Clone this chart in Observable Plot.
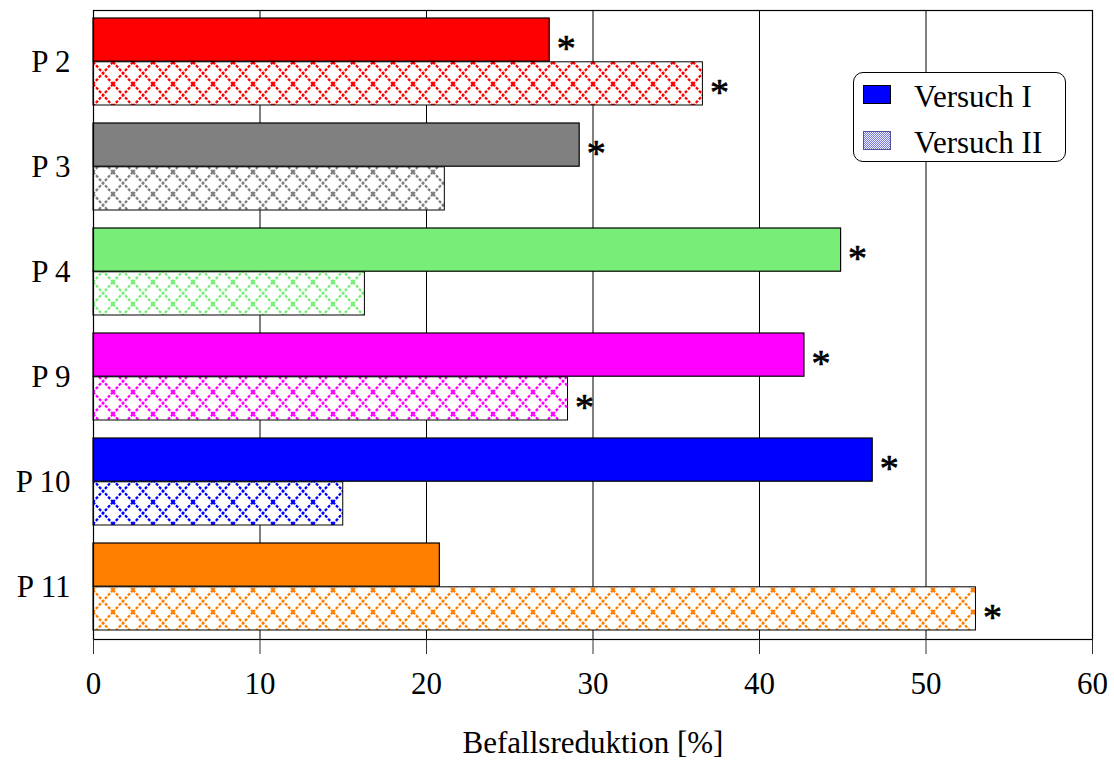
<!DOCTYPE html>
<html>
<head>
<meta charset="utf-8">
<script src="https://cdn.jsdelivr.net/npm/d3@7"></script>
<script src="https://cdn.jsdelivr.net/npm/@observablehq/plot@0.6"></script>
<style>
  body { margin: 0; background: #fff; }
  #wrap { position: relative; width: 1114px; height: 760px; font-family: "Liberation Serif", "Times New Roman", serif; }
  #legend { position: absolute; left: 853px; top: 72px; width: 211px; height: 88px; border: 1.5px solid #000; border-radius: 10px; background: #fff; }
  .sw { position: absolute; left: 9px; width: 26px; height: 17px; border: 1px solid #000; }
  .lt { position: absolute; left: 60px; font-size: 31px; line-height: 31px; color: #000; }
</style>
</head>
<body>
<div id="wrap"></div>
<script>
const categories = ["P 2", "P 3", "P 4", "P 9", "P 10", "P 11"];
const versuch1 = [27.4, 29.2, 44.9, 42.7, 46.8, 20.8];
const versuch2 = [36.6, 21.1, 16.3, 28.5, 15.0, 53.0];
const sig1 = [true, true, true, true, true, false];
const sig2 = [true, false, false, true, false, true];
const colors = ["#ff0000", "#808080", "#78ee78", "#ff00ff", "#0000ff", "#ff8000"];
const xTicks = [0, 10, 20, 30, 40, 50, 60];
const seriesNames = ["Versuch I", "Versuch II"];
const axisTitle = "Befallsreduktion [%]";

const rows1 = categories.map((c, i) => ({cat: c, value: versuch1[i], fill: colors[i], sig: sig1[i]}));
const rows2 = categories.map((c, i) => ({cat: c, value: versuch2[i], fill: `url(#hatch${i})`, sig: sig2[i]}));

const half = 43.8;
const font = "Liberation Serif, Times New Roman, serif";
const starStyle = {text: () => "*", textAnchor: "start", dx: 7, fontSize: 38, fill: "#000", stroke: "#000", strokeWidth: 0.7};

const plot = Plot.plot({
  width: 1114,
  height: 760,
  marginLeft: 93,
  marginRight: 22,
  marginTop: 10,
  marginBottom: 121,
  style: {fontFamily: font, fontSize: "31px", color: "#000", background: "#fff"},
  x: {domain: [0, 60]},
  y: {domain: categories, paddingInner: 0.167, paddingOuter: 0.076},
  color: {type: "identity"},
  marks: [
    Plot.gridX(xTicks.slice(1), {stroke: "#000", strokeOpacity: 1, strokeWidth: 1}),
    Plot.barX(rows1, {x: "value", y: "cat", fill: "fill", stroke: "#000", strokeWidth: 1.2, insetBottom: half}),
    Plot.barX(rows2, {x: "value", y: "cat", fill: "fill", stroke: "#000", strokeWidth: 1, insetTop: half}),
    Plot.text(rows1.filter(d => d.sig), {x: "value", y: "cat", dy: -half / 2 + 9, ...starStyle}),
    Plot.text(rows2.filter(d => d.sig), {x: "value", y: "cat", dy: half / 2 + 9, ...starStyle}),
    Plot.frame({stroke: "#000", strokeWidth: 1.2}),
    Plot.axisX({ticks: xTicks, tickSize: 15, tickPadding: 17, fontSize: 31, label: null, stroke: "#333"}),
    Plot.axisY({tickSize: 0, tickPadding: 23, fontSize: 31, label: null}),
    Plot.text([axisTitle], {text: d => d, frameAnchor: "bottom", dy: 113, fontSize: 31, fill: "#000"})
  ]
});

// hatch patterns for Versuch II
const defs = d3.select(plot).insert("defs", ":first-child");
colors.forEach((c, i) => {
  const p = defs.append("pattern")
    .attr("id", `hatch${i}`)
    .attr("patternUnits", "userSpaceOnUse")
    .attr("x", 93).attr("y", 18)
    .attr("width", 20).attr("height", 22);
  p.append("rect").attr("width", 20).attr("height", 22).attr("fill", "#fff");
  p.append("path")
    .attr("d", "M0,0L20,22M20,0L0,22")
    .attr("stroke", c).attr("stroke-width", 2.3).attr("stroke-dasharray", "3 1.5").attr("fill", "none");
});

const wrap = document.getElementById("wrap");
wrap.appendChild(plot);

const legend = document.createElement("div");
legend.id = "legend";
legend.innerHTML = `
  <div class="sw" style="top:12px;background:#0000ff"></div>
  <div class="lt" style="top:8px">${seriesNames[0]}</div>
  <div class="sw" style="top:58px;background:repeating-conic-gradient(#7a7ad8 0% 25%, #eeeeff 0% 50%) 0 0/2px 2px;border-color:#5050a0"></div>
  <div class="lt" style="top:54px">${seriesNames[1]}</div>`;
wrap.appendChild(legend);
</script>
</body>
</html>
